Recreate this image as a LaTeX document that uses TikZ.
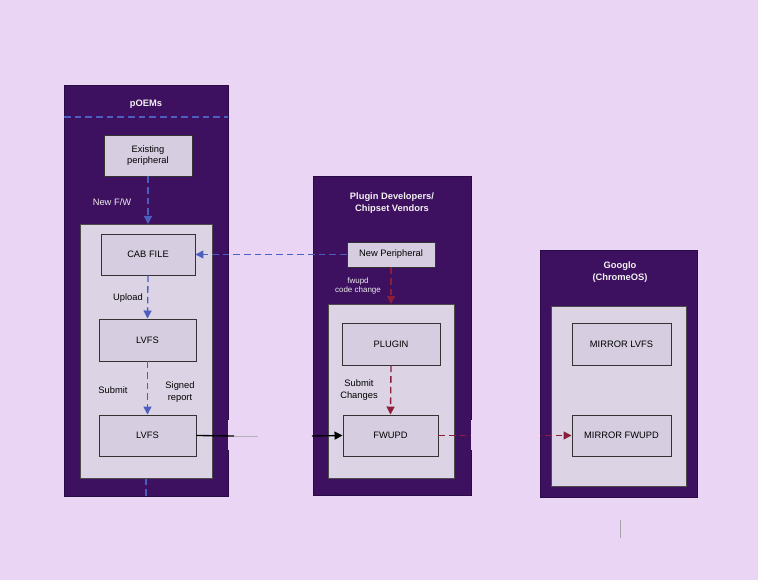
\documentclass[tikz,border=0pt]{standalone}
\usepackage{fontspec}
\setmainfont{Liberation Sans}
\usetikzlibrary{arrows.meta}
\definecolor{bg}{HTML}{EBD5F5}
\definecolor{panel}{HTML}{3D1060}
\definecolor{inner}{HTML}{DCD4E4}
\definecolor{boxf}{HTML}{D6CEE0}
\definecolor{blued}{HTML}{4A5FC0}
\definecolor{redd}{HTML}{8A1F3A}
\begin{document}
\begin{tikzpicture}[x=0.75pt,y=-0.75pt,
  panel/.style={fill=panel,draw=panel!70!black},
  innerbox/.style={fill=inner,draw=gray!60!black,line width=0.6pt},
  blk/.style={fill=boxf,draw=black!80,line width=0.7pt,font=\fontsize{7}{8}\selectfont},
  ttl/.style={text=white!90!gray,font=\fontsize{7}{8.5}\selectfont\bfseries,align=center},
  lbl/.style={font=\fontsize{7}{8.5}\selectfont,align=center},
  wlbl/.style={text=white!85!gray,font=\fontsize{6.5}{7.5}\selectfont,align=center},
  bdash/.style={blued,line width=1pt,dash pattern=on 5pt off 3pt},
  rdash/.style={redd,line width=1pt,dash pattern=on 5pt off 3pt},
  tip/.style={-{Triangle[length=6pt,width=6pt]}}]
\fill[bg] (0,0) rectangle (758,580);
% panels
\node[panel,minimum width=164*0.75pt,minimum height=411*0.75pt,anchor=north west,inner sep=0] (p1) at (64,85) {};
\node[panel,minimum width=158*0.75pt,minimum height=319*0.75pt,anchor=north west,inner sep=0] (p2) at (313,176) {};
\node[panel,minimum width=157*0.75pt,minimum height=247*0.75pt,anchor=north west,inner sep=0] (p3) at (540,250) {};
\draw[bdash,line width=0.8pt] (64,117) -- (228,117);
\node[ttl] (t1) at (146,104) {pOEMs};
\node[ttl] (t2) at (392,203) {Plugin Developers/\\Chipset Vendors};
\node[ttl] (t3) at (620,272) {Googlo\\(ChromeOS)};
% inner boxes
\node[innerbox,minimum width=132*0.75pt,minimum height=254*0.75pt,anchor=north west,inner sep=0] (i1) at (80,224) {};
\node[innerbox,minimum width=126*0.75pt,minimum height=174*0.75pt,anchor=north west,inner sep=0] (i2) at (328,304) {};
\node[innerbox,minimum width=135*0.75pt,minimum height=180*0.75pt,anchor=north west,inner sep=0] (i3) at (551,306) {};
% blocks
\node[blk,minimum width=88*0.75pt,minimum height=41*0.75pt,align=center] (ep) at (148,155.5) {Existing\\peripheral};
\node[blk,minimum width=94*0.75pt,minimum height=41*0.75pt] (cab) at (148,254.5) {CAB FILE};
\node[blk,minimum width=97*0.75pt,minimum height=42*0.75pt] (lv1) at (147.5,340) {LVFS};
\node[blk,minimum width=97*0.75pt,minimum height=41*0.75pt] (lv2) at (147.5,435.5) {LVFS};
\node[blk,minimum width=88*0.75pt,minimum height=25*0.75pt] (np) at (391,254.5) {New Peripheral};
\node[blk,minimum width=98*0.75pt,minimum height=42*0.75pt] (pl) at (391,344) {PLUGIN};
\node[blk,minimum width=95*0.75pt,minimum height=41*0.75pt] (fw) at (390.5,435.5) {FWUPD};
\node[blk,minimum width=99*0.75pt,minimum height=42*0.75pt] (ml) at (621.5,344) {MIRROR LVFS};
\node[blk,minimum width=99*0.75pt,minimum height=41*0.75pt] (mf) at (621.5,435.5) {MIRROR FWUPD};
% labels
\node[wlbl,font=\fontsize{7}{8}\selectfont] (l1) at (112,202) {New F/W};
\node[lbl] (l2) at (128,298) {Upload};
\node[lbl] (l3) at (113,390) {Submit};
\node[lbl] (l4) at (180,392) {Signed\\report};
\node[wlbl,font=\fontsize{6}{7}\selectfont] (l5) at (358,286) {fwupd\\code change};
\node[lbl] (l6) at (359,390) {Submit\\Changes};
% connectors
\draw[bdash,tip] (ep.south) -- (i1.north -| ep.south);
\draw[bdash,tip] (cab.south) -- (lv1.north);
\draw[bdash,tip] (lv1.south) -- (lv2.north);
\coordinate (b1) at (146,496);
\draw[bdash] (i1.south -| b1) -- (b1);
\draw[bdash,tip] (np.west) -- (cab.east);
\draw[rdash,tip] (np.south) -- (i2.north -| np.south);
\draw[rdash,tip] (pl.south) -- (fw.north);
\draw[rdash,tip] (fw.east) -- (mf.west);
\fill[bg] (471,420) rectangle (540,450);
\fill[bg] (228,420) rectangle (313,450);
\coordinate (g1) at (258,436);
\coordinate (g2) at (312,436);
\draw[black,line width=1pt] (lv2.east) -- (234,436);
\draw[gray!60,line width=0.4pt] (234,436) -- (g1);
\draw[black,line width=1pt,tip] (g2) -- (fw.west);
\coordinate (c1) at (620,520);
\coordinate (c2) at (620,538);
\draw[gray!70,line width=0.5pt] (c1) -- (c2);
\end{tikzpicture}
\end{document}
